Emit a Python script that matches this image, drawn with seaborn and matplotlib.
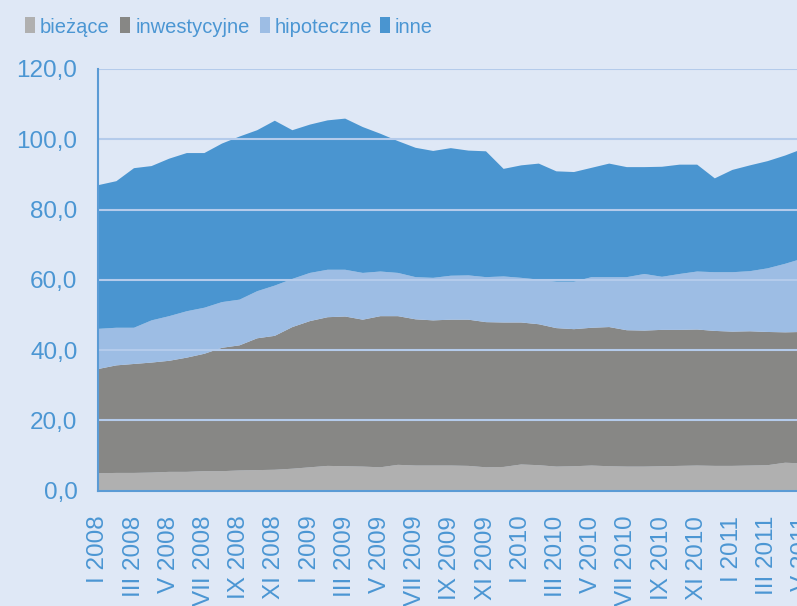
import numpy as np
import pandas as pd
import matplotlib
matplotlib.use("Agg")
import matplotlib.pyplot as plt
import seaborn as sns
from matplotlib.patches import Rectangle

# monthly data, I 2008 - V 2011
roman = ["I", "II", "III", "IV", "V", "VI", "VII", "VIII", "IX", "X", "XI", "XII"]
months = [f"{r} {y}" for y in (2008, 2009, 2010, 2011) for r in roman][:41]

biezace = [5.1, 5.2, 5.2, 5.3, 5.5, 5.5, 5.7, 5.7, 5.9, 6.0, 6.1, 6.4, 6.8, 7.2,
           7.1, 7.0, 6.8, 7.5, 7.3, 7.3, 7.3, 7.2, 6.8, 6.9, 7.6, 7.4, 7.0, 7.1,
           7.3, 7.1, 7.0, 7.0, 7.1, 7.2, 7.3, 7.2, 7.2, 7.3, 7.4, 8.1, 7.9]
inwestycyjne = [29.7, 30.6, 31.0, 31.3, 31.6, 32.5, 33.4, 35.1, 35.6, 37.5, 38.1,
                40.3, 41.6, 42.3, 42.6, 41.8, 43.0, 42.3, 41.6, 41.3, 41.5, 41.6,
                41.3, 41.1, 40.4, 40.1, 39.4, 39.0, 39.2, 39.6, 38.8, 38.7, 38.8,
                38.7, 38.7, 38.4, 38.2, 38.2, 37.9, 37.1, 37.4]
hipoteczne = [11.4, 10.7, 10.3, 12.0, 12.7, 13.2, 13.1, 13.0, 13.0, 13.4, 14.3,
              13.7, 13.7, 13.5, 13.3, 13.3, 12.7, 12.3, 12.0, 12.1, 12.5, 12.6,
              12.8, 13.1, 12.7, 12.7, 13.2, 13.5, 14.4, 14.2, 15.1, 16.1, 15.1,
              15.9, 16.5, 16.7, 16.9, 17.1, 18.1, 19.5, 20.9]
inne = [40.9, 41.7, 45.4, 43.9, 44.8, 45.0, 44.0, 45.1, 46.4, 45.8, 46.9, 42.3,
        42.2, 42.5, 43.0, 41.5, 39.2, 37.5, 36.8, 36.1, 36.3, 35.5, 35.8, 30.6,
        32.0, 33.0, 31.4, 31.2, 31.1, 32.3, 31.3, 30.4, 31.3, 31.1, 30.4, 26.7,
        29.1, 30.1, 30.5, 30.8, 31.2]

df = pd.DataFrame({"bieżące": biezace, "inwestycyjne": inwestycyjne,
                   "hipoteczne": hipoteczne, "inne": inne}, index=months)

BG = "#DFE8F6"
TXT = "#4B96D3"
GRID = "#B4CBEB"
colors = ["#B0B0B0", "#878785", "#9DBDE4", "#4A95D0"]

sns.set_theme(style="white")
plt.rcParams["font.family"] = ["Liberation Sans", "DejaVu Sans"]

W, H = 797, 606
fig = plt.figure(figsize=(W / 100, H / 100), dpi=100, facecolor=BG)
ax = fig.add_axes([98.3 / W, 1 - 490.7 / H, (802.3 - 98.3) / W, (490.7 - 68.9) / H])
ax.set_facecolor(BG)

x = np.arange(len(df))
ax.stackplot(x, df.T.values, colors=colors, labels=df.columns, linewidth=0)

ax.set_xlim(0, len(df) - 1)
ax.set_ylim(0, 120)
yt = np.arange(0, 121, 20)
ax.set_yticks(yt)
ax.set_yticklabels([f"{v:.1f}".replace(".", ",") for v in yt])
ax.set_xticks(x[::2])
ax.set_xticklabels(df.index[::2], rotation=90, va="top", ha="center")

ax.grid(axis="y", color=GRID, linewidth=1.5)
ax.grid(axis="x", visible=False)
ax.set_axisbelow(False)
ax.tick_params(length=0, colors=TXT, labelsize=17.5)
ax.tick_params(axis="y", pad=15)
ax.tick_params(axis="x", pad=18)

for s in ["top", "right"]:
    ax.spines[s].set_visible(False)
for s in ["left", "bottom"]:
    ax.spines[s].set_color("#5B9BD5")
    ax.spines[s].set_linewidth(1.5)
    ax.spines[s].set_zorder(5)

# legend row at the top, laid out by hand
box_x = [25, 119.5, 259.5, 379.5]
text_x = [40, 136, 275, 394.5]
for name, c, bx, tx in zip(df.columns, colors, box_x, text_x):
    fig.patches.append(Rectangle((bx / W, 1 - 32.7 / H), 10 / W, 15.4 / H,
                                 transform=fig.transFigure, facecolor=c,
                                 edgecolor="none"))
    fig.text(tx / W, 1 - 33 / H, name, color=TXT, fontsize=14.5,
             ha="left", va="baseline")

fig.savefig("out.png", dpi=100, facecolor=BG)
